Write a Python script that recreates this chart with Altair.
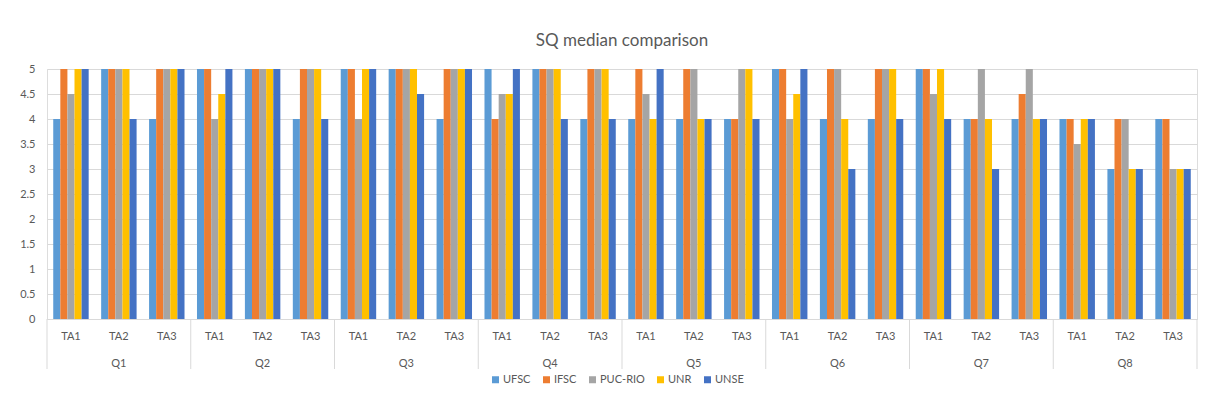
import altair as alt
import pandas as pd

questions = ["Q1", "Q2", "Q3", "Q4", "Q5", "Q6", "Q7", "Q8"]
tasks = ["TA1", "TA2", "TA3"]
series = ["UFSC", "IFSC", "PUC-RIO", "UNR", "UNSE"]
colors = ["#5B9BD5", "#ED7D31", "#A5A5A5", "#FFC000", "#4472C4"]

UFSC = [4, 5, 4, 5, 5, 4, 5, 5, 4, 5, 5, 4, 4, 4, 4, 5, 4, 4, 5, 4, 4, 4, 3, 4]
IFSC = [5, 5, 5, 5, 5, 5, 5, 5, 5, 4, 5, 5, 5, 5, 4, 5, 5, 5, 5, 4, 4.5, 4, 4, 4]
PUC_RIO = [4.5, 5, 5, 4, 5, 5, 4, 5, 5, 4.5, 5, 5, 4.5, 5, 5, 4, 5, 5, 4.5, 5, 5, 3.5, 4, 3]
UNR = [5, 5, 5, 4.5, 5, 5, 5, 5, 5, 4.5, 5, 5, 4, 4, 5, 4.5, 4, 5, 5, 4, 4, 4, 3, 3]
UNSE = [5, 4, 5, 5, 5, 4, 5, 4.5, 5, 5, 4, 4, 5, 4, 4, 5, 3, 4, 4, 3, 4, 4, 3, 3]
y_ticks = [0, 0.5, 1, 1.5, 2, 2.5, 3, 3.5, 4, 4.5, 5]

keys = [f"{q}-{t}" for q in questions for t in tasks]
vals = {"UFSC": UFSC, "IFSC": IFSC, "PUC-RIO": PUC_RIO, "UNR": UNR, "UNSE": UNSE}

rows = []
for s in series:
    for k, v in zip(keys, vals[s]):
        rows.append({"key": k, "series": s, "value": v})
df = pd.DataFrame(rows)

qdf = pd.DataFrame({"Q": questions, "key": [f"{q}-TA2" for q in questions]})
sep_start = pd.DataFrame({"key": [f"{q}-TA1" for q in questions]})
sep_end = pd.DataFrame({"key": [f"{questions[-1]}-TA3"]})

FONT = "Lato"
GREY = "#595959"
LINE = "#d9d9d9"
H = 250
W = 1150

xscale = alt.Scale(domain=keys, paddingInner=0, paddingOuter=0)

bars = alt.Chart(df).mark_bar().encode(
    x=alt.X("key:N", scale=xscale,
            axis=alt.Axis(title=None, labelAngle=0, ticks=False, grid=False,
                          labelExpr="split(datum.label, '-')[1]",
                          labelColor=GREY, labelFontSize=11, labelFont=FONT,
                          labelPadding=11, domainColor=LINE)),
    xOffset=alt.XOffset("series:N", sort=series,
                        scale=alt.Scale(paddingOuter=0.88, paddingInner=0)),
    y=alt.Y("value:Q", scale=alt.Scale(domain=[0, 5]),
            axis=alt.Axis(title=None, values=y_ticks, format="~g", domain=False,
                          ticks=False, gridColor=LINE, labelColor=GREY,
                          labelFontSize=11, labelFont=FONT, labelPadding=12)),
    color=alt.Color("series:N", sort=series,
                    scale=alt.Scale(domain=series, range=colors),
                    legend=alt.Legend(title=None, orient="none", direction="horizontal",
                                      legendX=443, legendY=305, symbolType="square",
                                      symbolSize=49, symbolStrokeWidth=0,
                                      labelFontSize=11, labelFont=FONT,
                                      labelColor=GREY, labelOffset=2,
                                      columnPadding=10)),
)

qlabels = alt.Chart(qdf).mark_text(fontSize=11, font=FONT, color=GREY,
                                   baseline="middle").encode(
    x=alt.X("key:N", scale=xscale, bandPosition=0.5),
    y=alt.value(H + 45),
    text="Q:N",
)

seps1 = alt.Chart(sep_start).mark_rule(color=LINE, strokeWidth=1).encode(
    x=alt.X("key:N", scale=xscale, bandPosition=0),
    y=alt.value(H),
    y2=alt.value(H + 50),
)
seps2 = alt.Chart(sep_end).mark_rule(color=LINE, strokeWidth=1).encode(
    x=alt.X("key:N", scale=xscale, bandPosition=1),
    y=alt.value(H),
    y2=alt.value(H + 50),
)

chart = alt.layer(bars, seps1, seps2, qlabels).properties(
    width=W, height=H,
    title=alt.Title("SQ median comparison", fontSize=17, font=FONT,
                    fontWeight="normal", color=GREY, offset=13),
    autosize=alt.AutoSizeParams(type="none"),
    padding={"left": 39, "top": 61, "right": 8, "bottom": 80},
).configure_view(stroke=None).configure(background="white")

chart.save("out.html", embed_options={"renderer": "svg", "actions": False})
